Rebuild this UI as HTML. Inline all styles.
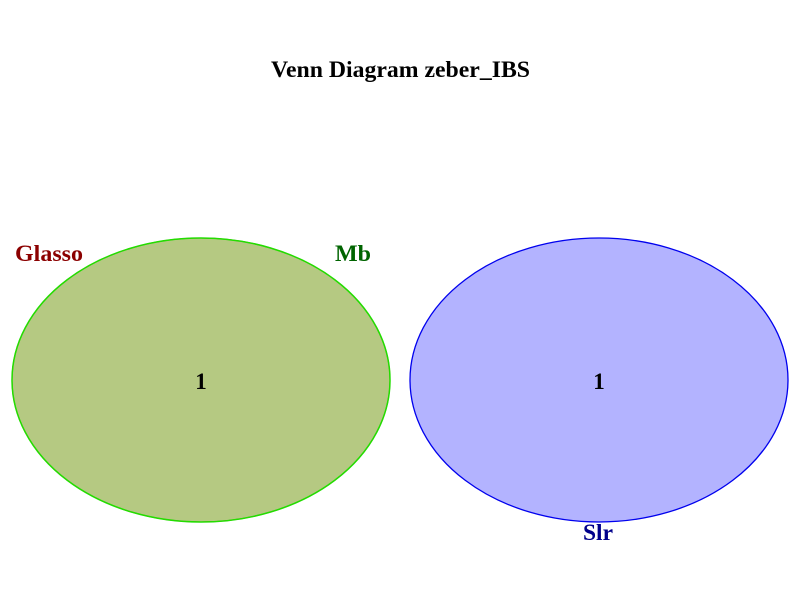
<!DOCTYPE html>
<html><head><style>body{margin:0;background:#fff}</style></head><body>
<svg width="800" height="600" xmlns="http://www.w3.org/2000/svg" font-family="Liberation Serif, serif" font-weight="bold">
<rect width="800" height="600" fill="#fff"/>
<text x="271" y="77" font-size="23" textLength="259" lengthAdjust="spacingAndGlyphs">Venn Diagram zeber_IBS</text>
<ellipse cx="201" cy="380" rx="189" ry="142" fill="#b5c982" stroke="#b00000" stroke-width="1"/>
<ellipse cx="201" cy="380" rx="189" ry="142" fill="none" stroke="#22dd00" stroke-width="1.5"/>
<ellipse cx="599" cy="380" rx="189" ry="142" fill="#b3b3ff" stroke="#0000ee" stroke-width="1.3"/>
<text x="201" y="389" font-size="23" text-anchor="middle">1</text>
<text x="599" y="389" font-size="23" text-anchor="middle">1</text>
<text x="15" y="261" font-size="23" fill="#8b0000" textLength="68" lengthAdjust="spacingAndGlyphs">Glasso</text>
<text x="335" y="261" font-size="23" fill="#006400" textLength="36" lengthAdjust="spacingAndGlyphs">Mb</text>
<text x="583" y="540" font-size="23" fill="#00008b" textLength="30" lengthAdjust="spacingAndGlyphs">Slr</text>
</svg>
</body></html>
